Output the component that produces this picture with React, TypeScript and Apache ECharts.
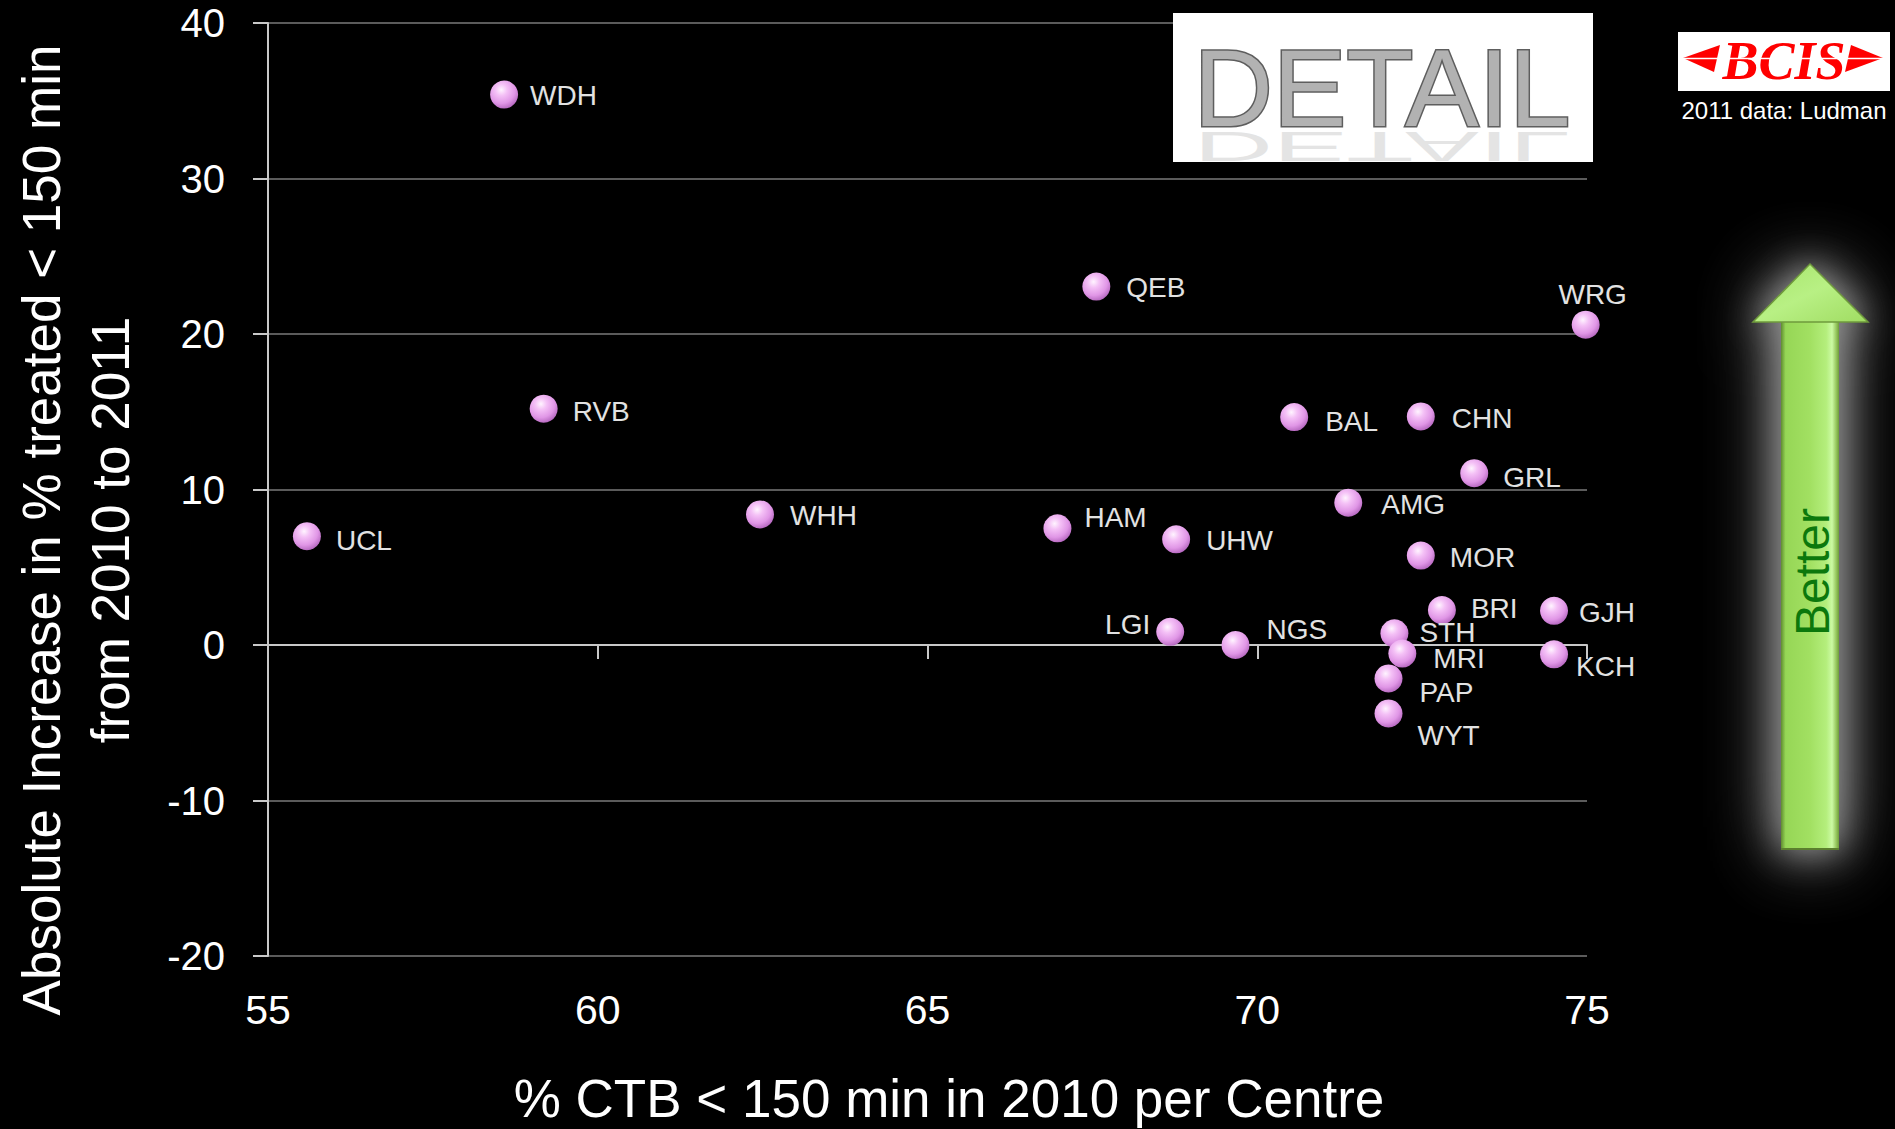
import React, { useEffect, useRef } from 'react';
import * as echarts from 'echarts';

const centres = ['UCL', 'WDH', 'RVB', 'WHH', 'QEB', 'HAM', 'UHW', 'LGI', 'NGS', 'BAL', 'CHN', 'GRL', 'AMG', 'MOR', 'BRI', 'GJH', 'STH', 'MRI', 'KCH', 'PAP', 'WYT', 'WRG'];
const pctCtb2010 = [55.59, 58.58, 59.18, 62.46, 67.56, 66.97, 68.77, 68.68, 69.67, 70.56, 72.48, 73.29, 71.38, 72.48, 72.8, 74.5, 72.08, 72.2, 74.5, 71.99, 71.99, 74.98];
const absIncrease = [7.0, 35.4, 15.2, 8.4, 23.05, 7.5, 6.8, 0.85, 0.0, 14.66, 14.7, 11.05, 9.15, 5.75, 2.25, 2.2, 0.75, -0.55, -0.6, -2.15, -4.4, 20.6];

const labelSide = ['right', 'right', 'right', 'right', 'right', 'right', 'right', 'left', 'right', 'right', 'right', 'right', 'right', 'right', 'right', 'right', 'right', 'right', 'right', 'right', 'right', 'top'];
const labelShift = [[15, 4], [12, 1], [15, 3], [16, 1], [16, 1], [13, -11], [16, 1], [-6, -7], [17, -16], [17, 4], [17, 2], [15, 4], [19, 2], [15, 2], [15, -2], [11, 2], [11, -1], [17, 5], [8, 12], [17, 14], [15, 22], [7, -2]];

const FONT = 'Liberation Sans, Arial, Helvetica, sans-serif';

export default function App() {
  const ref = useRef<HTMLDivElement>(null);
  useEffect(() => {
    document.body.style.margin = '0';
    document.body.style.background = '#000';
    const chart = echarts.init(ref.current as HTMLDivElement, null, { renderer: 'svg' });

    const sphere = new echarts.graphic.RadialGradient(0.4, 0.33, 0.7, [
      { offset: 0, color: '#fff4ff' },
      { offset: 0.3, color: '#f4c0f6' },
      { offset: 0.7, color: '#e096e6' },
      { offset: 1, color: '#b466be' },
    ]);

    const data = centres.map((n, i) => ({
      name: n,
      value: [pctCtb2010[i], absIncrease[i]],
      label: { position: labelSide[i], offset: labelShift[i] },
    }));

    const arrowPts = [[1810, 264], [1868, 322], [1839, 322], [1839, 850], [1781, 850], [1781, 322], [1753, 322]];

    const option: any = {
      animation: false,
      backgroundColor: '#000',
      textStyle: { fontFamily: FONT },
      grid: { left: 268, right: 308, top: 23, bottom: 173, containLabel: false },
      xAxis: [
        {
          type: 'value', min: 55, max: 75, interval: 5, position: 'bottom',
          axisLine: { show: false }, axisTick: { show: false }, splitLine: { show: false },
          axisLabel: { color: '#fff', fontSize: 41, margin: 33, fontFamily: FONT },
        },
        {
          type: 'value', min: 55, max: 75, interval: 5, position: 'top',
          axisLine: { show: true, onZero: true, onZeroAxisIndex: 0, lineStyle: { color: '#c8c8c8', width: 2 } },
          axisTick: { show: true, inside: true, length: 14, lineStyle: { color: '#c8c8c8', width: 2 } },
          axisLabel: { show: false }, splitLine: { show: false },
        },
      ],
      yAxis: {
        type: 'value', min: -20, max: 40, interval: 10,
        axisLine: { show: true, onZero: false, lineStyle: { color: '#c8c8c8', width: 2 } },
        axisTick: { show: true, length: 15, lineStyle: { color: '#c8c8c8', width: 2 } },
        axisLabel: { color: '#fff', fontSize: 40, margin: 43, fontFamily: FONT },
        splitLine: { show: true, lineStyle: { color: '#7a7a7a', width: 1.5 } },
      },
      series: [
        {
          type: 'scatter', xAxisIndex: 0, yAxisIndex: 0, symbol: 'circle', symbolSize: 28,
          itemStyle: { color: sphere, opacity: 1 },
          label: { show: true, formatter: '{b}', color: '#e2e2e2', fontSize: 28, distance: 0, fontFamily: FONT },
          data,
          z: 3,
        },
      ],
      graphic: [
        {
          type: 'text', x: 76, y: 530, rotation: Math.PI / 2,
          style: {
            text: 'Absolute Increase in % treated < 150 min\nfrom 2010 to 2011',
            fill: '#fff', fontSize: 53, fontFamily: FONT, align: 'center', verticalAlign: 'middle', lineHeight: 69,
          },
        },
        {
          type: 'text', x: 949, y: 1098,
          style: { text: '% CTB < 150 min in 2010 per Centre', fill: '#fff', fontSize: 53, fontFamily: FONT, align: 'center', verticalAlign: 'middle' },
        },
        // DETAIL box
        { type: 'rect', shape: { x: 1173, y: 13, width: 420, height: 149 }, style: { fill: '#fff' }, z: 10 },
        {
          type: 'text', x: 1382, y: 146, scaleY: -0.38, z: 11,
          style: {
            text: 'DETAIL', fontSize: 110, fontFamily: FONT, align: 'center', verticalAlign: 'middle',
            fill: '#e4e4e4',
          },
        },
        {
          type: 'text', x: 1382, y: 87, z: 12,
          style: {
            text: 'DETAIL', fontSize: 110, fontFamily: FONT, align: 'center', verticalAlign: 'middle',
            fill: '#b2b2b2', stroke: '#5e5e5e', lineWidth: 3,
          },
        },
        // BCIS logo
        { type: 'rect', shape: { x: 1678, y: 32, width: 212, height: 59 }, style: { fill: '#fff' }, z: 10 },
        { type: 'polygon', shape: { points: [[1683, 58], [1720, 45], [1714, 72]] }, style: { fill: '#ff0000' }, z: 11 },
        { type: 'polygon', shape: { points: [[1883, 58], [1851, 45], [1845, 72]] }, style: { fill: '#ff0000' }, z: 11 },
        {
          type: 'text', x: 1784, y: 61, z: 11,
          style: { text: 'BCIS', fill: '#ff0000', fontSize: 54, fontFamily: 'Liberation Serif, Times New Roman, serif', fontWeight: 'bold', fontStyle: 'italic', align: 'center', verticalAlign: 'middle' },
        },
        { type: 'line', shape: { x1: 1683, y1: 58.5, x2: 1883, y2: 58.5 }, style: { stroke: '#fff', lineWidth: 1.5 }, z: 12 },
        {
          type: 'text', x: 1784, y: 110, z: 11,
          style: { text: '2011 data: Ludman', fill: '#fff', fontSize: 24, fontFamily: FONT, align: 'center', verticalAlign: 'middle' },
        },
        // Better arrow glow
        {
          type: 'polygon', z: 9,
          shape: { points: arrowPts },
          style: { fill: '#8a8a8a', shadowBlur: 70, shadowColor: 'rgba(170,170,170,1)' },
        },
        {
          type: 'polygon', z: 10,
          shape: { points: arrowPts },
          style: { fill: '#9ee060', shadowBlur: 35, shadowColor: 'rgba(150,150,150,1)' },
        },
        {
          type: 'rect', z: 11, shape: { x: 1781, y: 321, width: 58, height: 529 },
          style: {
            fill: new echarts.graphic.LinearGradient(0, 0, 1, 0, [
              { offset: 0, color: '#5f8c30' },
              { offset: 0.08, color: '#96d656' },
              { offset: 0.5, color: '#a2e062' },
              { offset: 0.78, color: '#b4ee7c' },
              { offset: 0.88, color: '#ccfaa4' },
              { offset: 0.95, color: '#98c860' },
              { offset: 1, color: '#6e9c3a' },
            ]),
          },
        },
        { type: 'line', z: 12, shape: { x1: 1781, y1: 849, x2: 1839, y2: 849 }, style: { stroke: '#5b7f2e', lineWidth: 2 } },
        {
          type: 'polygon', z: 11,
          shape: { points: [[1810, 264], [1868, 322], [1753, 322]] },
          style: {
            fill: new echarts.graphic.LinearGradient(0, 0, 1, 1, [
              { offset: 0, color: '#a6e46a' },
              { offset: 0.5, color: '#b8f084' },
              { offset: 1, color: '#a0dc62' },
            ]),
            stroke: '#6f9a3c', lineWidth: 1.5,
          },
        },
        {
          type: 'text', x: 1812, y: 572, rotation: Math.PI / 2, z: 13,
          style: { text: 'Better', fill: '#0c780c', fontSize: 48, fontFamily: FONT, align: 'center', verticalAlign: 'middle' },
        },
      ],
    };

    chart.setOption(option);
    return () => chart.dispose();
  }, []);
  return <div ref={ref} style={{ position: 'absolute', left: 0, top: 0, width: 1895, height: 1129, background: '#000' }} />;
}
